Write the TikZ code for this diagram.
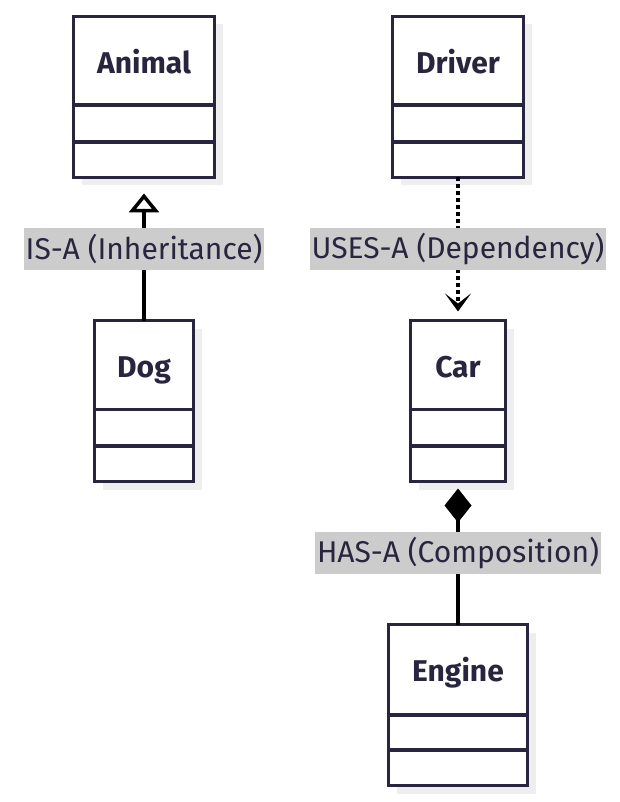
\documentclass[tikz,border=0pt]{standalone}
\usepackage{fontspec}
\setmainfont{Fira Sans}
\usepackage{xcolor}
\usepackage{tikz}
\usetikzlibrary{arrows.meta,shadows}

\definecolor{umlink}{RGB}{40,37,62}
\definecolor{labelgray}{RGB}{204,204,204}
\definecolor{shadowgray}{RGB}{238,238,238}

\begin{document}
\begin{tikzpicture}[x=1pt, y=-1pt,
    classbox/.style={draw=umlink, line width=3.5pt, fill=white, inner sep=0pt, outer sep=0pt,
        drop shadow={shadow xshift=8pt, shadow yshift=-8pt, fill=shadowgray, opacity=1}},
    classname/.style={anchor=base, text=umlink, font=\fontsize{30}{36}\selectfont\bfseries},
    classrule/.style={draw=umlink, line width=3.5pt},
    relation/.style={draw=black, line width=3.5pt},
    rellabel/.style={fill=labelgray, text=umlink, font=\fontsize{30}{36}\selectfont,
        inner xsep=2pt, inner ysep=0pt, minimum height=42pt}]

            \useasboundingbox (0,0) rectangle (620,802);

            \node[classbox, minimum width=141pt, minimum height=161pt] (animal) at (144,97) {};
            \node[classbox, minimum width=131pt, minimum height=161pt] (driver) at (458,97) {};
            \node[classbox, minimum width=99pt, minimum height=161pt] (dog) at (144,401) {};
            \node[classbox, minimum width=95pt, minimum height=161pt] (car) at (458,401) {};
            \node[classbox, minimum width=139pt, minimum height=161pt] (engine) at (458,705) {};

            \node[classname] (animal title) at (144,73.5) {Animal};
            \node[classname] (driver title) at (458,73.5) {Driver};
            \node[classname] (dog title) at (144,377.5) {Dog};
            \node[classname] (car title) at (458,377.5) {Car};
            \node[classname] (engine title) at (458,681.5) {Engine};

            \draw[classrule] (animal.west |- 0,105) -- (animal.east |- 0,105);
            \draw[classrule] (animal.west |- 0,142) -- (animal.east |- 0,142);
            \draw[classrule] (driver.west |- 0,105) -- (driver.east |- 0,105);
            \draw[classrule] (driver.west |- 0,142) -- (driver.east |- 0,142);
            \draw[classrule] (dog.west |- 0,409.5) -- (dog.east |- 0,409.5);
            \draw[classrule] (dog.west |- 0,446) -- (dog.east |- 0,446);
            \draw[classrule] (car.west |- 0,409.5) -- (car.east |- 0,409.5);
            \draw[classrule] (car.west |- 0,446) -- (car.east |- 0,446);
            \draw[classrule] (engine.west |- 0,715) -- (engine.east |- 0,715);
            \draw[classrule] (engine.west |- 0,750) -- (engine.east |- 0,750);

            \draw[relation, -{Triangle[open, fill=white, length=19pt, width=30pt]}, shorten >=16pt]
                (dog) -- node[rellabel] {IS-A (Inheritance)} (animal);
            \draw[relation, dash pattern=on 4pt off 3pt, -{Stealth[length=18pt, width=26pt, inset=10pt]}, shorten >=9pt]
                (driver) -- node[rellabel] {USES-A (Dependency)} (car);
            \draw[relation, {Diamond[length=34pt, width=27pt]}-, shorten <=7pt]
                (car) -- node[rellabel] {HAS-A (Composition)} (engine);
        \end{tikzpicture}
\end{document}
